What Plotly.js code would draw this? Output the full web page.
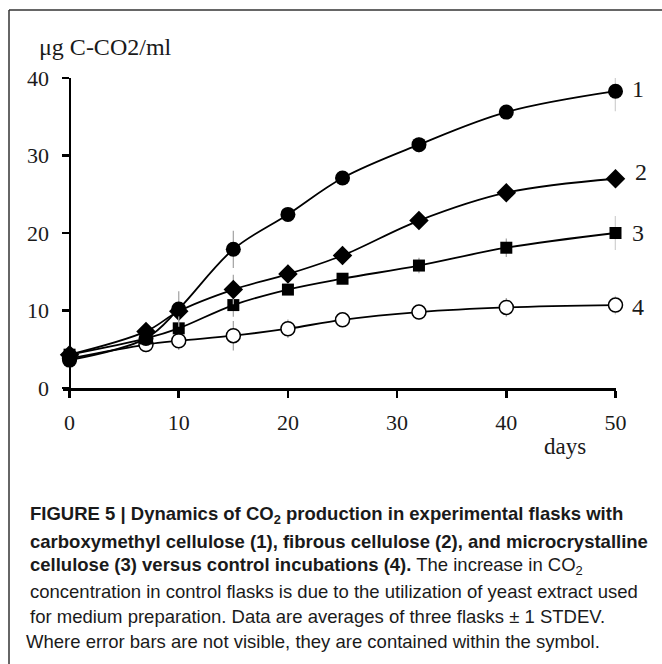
<!DOCTYPE html>
<html><head><meta charset="utf-8">
<script src="https://cdn.plot.ly/plotly-3.0.1.min.js"></script>
<style>html,body{margin:0;padding:0;background:#fff}#chart{width:662px;height:664px}</style>
</head><body><div id="chart"></div>
<script>
// Data
const days = [0, 7, 10, 15, 20, 25, 32, 40, 50];
const cmc = [3.6, 6.4, 10.2, 17.9, 22.4, 27.1, 31.4, 35.6, 38.3];          // 1
const cmcErr = [0.5, 0.8, 2.3, 2.4, 0.8, 0.9, 1.0, 0.8, 2.6];
const fibrous = [4.3, 7.3, 9.9, 12.7, 14.7, 17.1, 21.6, 25.2, 27.0];       // 2
const fibrousErr = [0.3, 0.6, 0.8, 1.9, 1.2, 1.2, 0.8, 0.8, 1.2];
const micro = [4.3, 6.4, 7.7, 10.7, 12.7, 14.1, 15.8, 18.1, 20.0];         // 3
const microErr = [0.3, 0.5, 0.6, 1.5, 0.6, 0.6, 1.0, 1.2, 2.2];
const control = [3.8, 5.6, 6.1, 6.75, 7.65, 8.8, 9.8, 10.4, 10.7];         // 4
const controlErr = [0.3, 1.0, 1.2, 1.9, 1.2, 0.8, 1.0, 1.2, 1.2];
const seriesLabels = ['1', '2', '3', '4'];
const xTicks = [0, 10, 20, 30, 40, 50];
const yTicks = [0, 10, 20, 30, 40];

const W = 662, H = 664;
const px = x => x / W;
const py = y => 1 - y / H;
const serif = 'Liberation Serif, Times New Roman, serif';
const sans = 'Liberation Sans, Arial, sans-serif';

function trace(y, err, symbol, size, fill) {
  return {
    x: days, y: y, type: 'scatter', mode: 'lines+markers', cliponaxis: false,
    line: {color: '#000', width: 1.8, shape: 'spline', smoothing: 1},
    marker: {symbol: symbol, size: size, color: fill ? '#000' : '#fff',
             line: {color: '#000', width: fill ? 0 : 1.5}},
    error_y: {type: 'data', array: err, visible: true, color: '#a8a8a8', thickness: 1.3, width: 0},
    showlegend: false, hoverinfo: 'skip'
  };
}

const data = [
  trace(control, controlErr, 'circle', 14, false),
  trace(micro, microErr, 'square', 12, true),
  trace(fibrous, fibrousErr, 'diamond', 15, true),
  trace(cmc, cmcErr, 'circle', 15, true)
];

const labelPos = [[638, 89], [641, 172], [638, 233], [638, 307]];
const annotations = seriesLabels.map((t, i) => ({
  text: t, xref: 'paper', yref: 'paper', x: px(labelPos[i][0]), y: py(labelPos[i][1]),
  xanchor: 'center', yanchor: 'middle', showarrow: false,
  font: {family: serif, size: 24, color: '#1a1a1a'}
}));
annotations.push({text: 'μg C-CO2/ml', xref: 'paper', yref: 'paper', x: px(37), y: py(47),
  xanchor: 'left', yanchor: 'middle', showarrow: false, font: {family: serif, size: 24, color: '#1a1a1a'}});
annotations.push({text: 'days', xref: 'paper', yref: 'paper', x: px(565), y: py(446),
  xanchor: 'center', yanchor: 'middle', showarrow: false, font: {family: serif, size: 23, color: '#1a1a1a'}});

const caption = [
  ['<b>FIGURE 5 | Dynamics of CO<sub>2</sub> production in experimental flasks with</b>', 28, 515],
  ['<b>carboxymethyl cellulose (1), fibrous cellulose (2), and microcrystalline</b>', 28, 541],
  ['<b>cellulose (3) versus control incubations (4).</b> The increase in CO<sub>2</sub>', 28, 566],
  ['concentration in control flasks is due to the utilization of yeast extract used', 28, 591],
  ['for medium preparation. Data are averages of three flasks ± 1 STDEV.', 28, 616],
  ['Where error bars are not visible, they are contained within the symbol.', 24, 641]
];
caption.forEach(c => annotations.push({text: c[0], xref: 'paper', yref: 'paper', x: px(c[1]), y: py(c[2]),
  xanchor: 'left', yanchor: 'middle', showarrow: false, align: 'left',
  font: {family: sans, size: 18.5, color: '#1a1a1a'}}));

const layout = {
  width: W, height: H, margin: {l: 0, r: 0, t: 0, b: 0},
  paper_bgcolor: '#fff', plot_bgcolor: 'rgba(0,0,0,0)',
  xaxis: {domain: [px(63), px(615.5)], range: [-0.6, 50], tickvals: xTicks, ticktext: xTicks.map(String),
    ticks: 'outside', ticklen: 7, tickwidth: 2.5, tickcolor: '#000', showline: true, linewidth: 2.5, linecolor: '#000',
    showgrid: false, zeroline: false, automargin: false, ticklabelstandoff: 6,
    tickfont: {family: serif, size: 22, color: '#1a1a1a'}},
  yaxis: {domain: [py(388), py(78)], range: [0, 40], tickvals: yTicks, ticktext: yTicks.map(String),
    anchor: 'free', position: px(69.5),
    ticks: 'outside', ticklen: 7, tickwidth: 2.5, tickcolor: '#000', showline: true, linewidth: 2.5, linecolor: '#000',
    showgrid: false, zeroline: false, automargin: false, ticklabelstandoff: 8,
    tickfont: {family: serif, size: 22, color: '#1a1a1a'}},
  annotations: annotations,
  shapes: [
    {type: 'line', xref: 'paper', yref: 'paper', x0: px(9), x1: 1, y0: py(10), y1: py(10), line: {color: '#333', width: 1.5}},
    {type: 'line', xref: 'paper', yref: 'paper', x0: px(9), x1: px(9), y0: py(10), y1: 0, line: {color: '#333', width: 1.5}}
  ]
};

Plotly.newPlot('chart', data, layout, {displayModeBar: false, staticPlot: true});
</script>
</body></html>
